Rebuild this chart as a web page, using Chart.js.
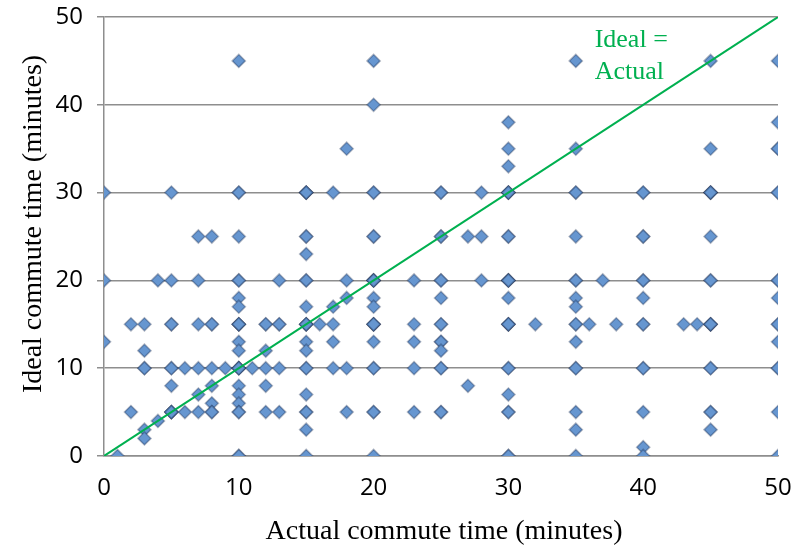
<!DOCTYPE html>
<html>
<head>
<meta charset="utf-8">
<script src="https://cdn.jsdelivr.net/npm/chart.js@4/dist/chart.umd.min.js"></script>
<style>
  html, body { margin: 0; padding: 0; background: #fff; }
  #chart { display: block; }
</style>
</head>
<body>
<canvas id="chart" width="791" height="549"></canvas>
<script>
// actual commute time (x) for each column of answers
const actualColumns = [0, 1, 2, 3, 4, 5, 6, 7, 8, 9, 10, 11, 12, 13, 15, 16, 17, 18, 20, 23, 25, 27, 28, 30, 32, 35, 36, 37, 38, 40, 43, 44, 45, 50];
// ideal commute time (y) answers found at each actual time
const idealByColumn = [
  [30, 20, 13],
  [0],
  [15, 5],
  [15, 12, 10, 3, 2],
  [20, 4],
  [30, 20, 15, 10, 8, 5],
  [10, 5],
  [25, 20, 15, 10, 7, 5],
  [25, 15, 10, 8, 6, 5],
  [10],
  [45, 30, 25, 20, 18, 17, 15, 13, 12, 10, 8, 7, 6, 5, 0],
  [10],
  [15, 12, 10, 8, 5],
  [20, 15, 10, 5],
  [30, 25, 23, 20, 17, 15, 13, 12, 10, 7, 5, 3, 0],
  [15],
  [30, 17, 15, 13, 10],
  [35, 20, 18, 10, 5],
  [45, 40, 30, 25, 20, 18, 17, 15, 13, 10, 5, 0],
  [20, 15, 13, 10, 5],
  [30, 25, 20, 18, 15, 13, 12, 10, 5],
  [25, 8],
  [30, 25, 20],
  [38, 35, 33, 30, 25, 20, 18, 15, 10, 7, 5, 0],
  [15],
  [45, 35, 30, 25, 20, 18, 17, 15, 13, 10, 5, 3, 0],
  [15],
  [20],
  [15],
  [30, 25, 20, 18, 15, 10, 5, 1, 0],
  [15],
  [15],
  [45, 35, 30, 25, 20, 15, 10, 5, 3],
  [45, 38, 35, 30, 20, 18, 15, 13, 10, 5, 0]
];
// estimated number of respondents stacked on each point (darker marker = more)
const countByColumn = [
  [1, 1, 1],
  [1],
  [1, 1],
  [1, 1, 2, 1, 1],
  [1, 1],
  [1, 1, 2, 2, 1, 4],
  [1, 1],
  [1, 1, 1, 1, 1, 1],
  [1, 2, 1, 1, 1, 2],
  [1],
  [1, 2, 1, 2, 1, 1, 4, 1, 1, 4, 1, 1, 1, 2, 2],
  [1],
  [2, 1, 1, 1, 1],
  [1, 2, 1, 1],
  [4, 2, 1, 2, 1, 4, 1, 1, 2, 1, 2, 1, 1],
  [1],
  [1, 1, 1, 1, 1],
  [1, 1, 1, 1, 1],
  [1, 1, 2, 2, 4, 1, 1, 4, 1, 2, 2, 1],
  [1, 1, 1, 1, 1],
  [2, 2, 2, 1, 2, 2, 1, 2, 2],
  [1, 1],
  [1, 1, 1],
  [1, 1, 1, 4, 2, 4, 1, 4, 2, 1, 2, 2],
  [1],
  [1, 1, 2, 1, 2, 1, 1, 2, 1, 2, 1, 1, 1],
  [1],
  [1],
  [1],
  [2, 2, 2, 1, 2, 2, 1, 1, 1],
  [1],
  [1],
  [1, 1, 4, 1, 2, 4, 2, 2, 1],
  [1, 1, 2, 2, 2, 1, 2, 1, 2, 1, 1]
];
const idealLineX = [0, 50];
const idealLineY = [0, 50];
const yTicks = [0, 10, 20, 30, 40, 50];
const xTicks = [0, 10, 20, 30, 40, 50];

const answers = [];
actualColumns.forEach((x, i) => {
  idealByColumn[i].forEach((y, j) => {
    for (let k = 0; k < countByColumn[i][j]; k++) answers.push({ x: x, y: y });
  });
});

const GREEN = '#00b050';
const GRID = '#8e8e8e';

const titles = {
  id: 'titles',
  afterDraw(chart) {
    const ctx = chart.ctx;
    const xs = chart.scales.x;
    ctx.save();
    ctx.fillStyle = '#000';
    ctx.font = '28px "Liberation Serif", "Times New Roman", serif';
    ctx.textAlign = 'center';
    ctx.textBaseline = 'alphabetic';
    ctx.fillText('Actual commute time (minutes)', 444, 539);
    ctx.save();
    ctx.translate(41, 224);
    ctx.rotate(-Math.PI / 2);
    ctx.fillText('Ideal commute time (minutes)', 0, 0);
    ctx.restore();
    ctx.fillStyle = GREEN;
    ctx.font = '26px "Liberation Serif", "Times New Roman", serif';
    ctx.textAlign = 'left';
    const lx = xs.getPixelForValue(36.4);
    ctx.fillText('Ideal =', lx, 47);
    ctx.fillText('Actual', lx, 79);
    ctx.restore();
  }
};

new Chart(document.getElementById('chart'), {
  type: 'scatter',
  data: {
    datasets: [
      {
        type: 'line',
        data: idealLineX.map((x, i) => ({ x: x, y: idealLineY[i] })),
        borderColor: GREEN,
        borderWidth: 2,
        pointRadius: 0,
        fill: false
      },
      {
        data: answers,
        pointStyle: 'rectRot',
        pointRadius: 6.5,
        backgroundColor: '#6696d0',
        borderColor: 'rgba(20, 38, 72, 0.34)',
        borderWidth: 1.6
      }
    ]
  },
  options: {
    responsive: false,
    animation: false,
    layout: { padding: { top: 17, right: 13, left: 0, bottom: 0 } },
    plugins: { legend: { display: false }, tooltip: { enabled: false } },
    scales: {
      x: {
        type: 'linear',
        min: 0, max: 50,
        afterBuildTicks: s => { s.ticks = xTicks.map(v => ({ value: v })); },
        afterFit: s => { s.height = 93; s.paddingLeft = 0; s.paddingRight = 0; },
        grid: { display: false, drawTicks: false },
        border: { display: true, color: GRID, width: 1.5 },
        ticks: {
          padding: 18,
          color: '#000',
          font: { family: '"Open Sans", sans-serif', size: 24 }
        }
      },
      y: {
        min: 0, max: 50,
        afterBuildTicks: s => { s.ticks = yTicks.map(v => ({ value: v })); },
        afterFit: s => { s.width = 104; s.paddingTop = 0; s.paddingBottom = 0; },
        grid: { color: GRID, lineWidth: 1.5, tickLength: 7, drawTicks: true },
        border: { display: true, color: GRID, width: 1.5 },
        ticks: {
          padding: 14,
          color: '#000',
          font: { family: '"Open Sans", sans-serif', size: 24 }
        }
      }
    }
  },
  plugins: [titles]
});
</script>
</body>
</html>
